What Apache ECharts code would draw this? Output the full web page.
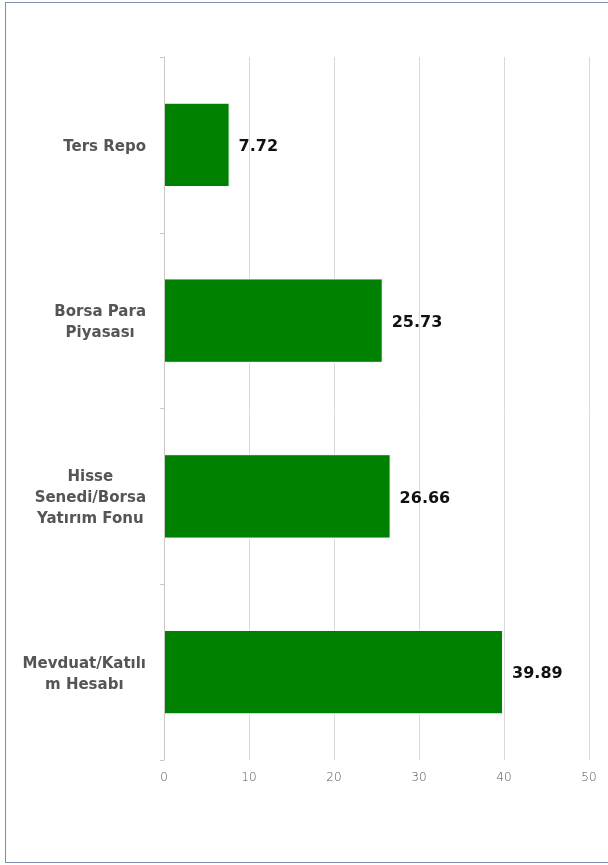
<!DOCTYPE html>
<html>
<head>
<meta charset="utf-8">
<script src="https://cdn.jsdelivr.net/npm/echarts@6/dist/echarts.min.js"></script>
<style>
html,body{margin:0;padding:0;width:608px;height:865px;overflow:hidden;background:#fff;}
#frame{position:absolute;left:5px;top:2px;width:720px;height:859px;border:1px solid #7f8fac;}
#chart{position:absolute;left:0;top:0;width:608px;height:865px;}
</style>
</head>
<body>
<div id="frame"></div>
<div id="chart"></div>
<script>
const categories = ["Ters Repo", "Borsa Para Piyasası", "Hisse Senedi/Borsa Yatırım Fonu", "Mevduat/Katılım Hesabı"];
const categoryLabels = ["Ters Repo", "Borsa Para\nPiyasası", "Hisse\nSenedi/Borsa\nYatırım Fonu", "Mevduat/Katılı\nm Hesabı"];
const values = [7.72, 25.73, 26.66, 39.89];
const xTicks = [0, 10, 20, 30, 40, 50];

const chart = echarts.init(document.getElementById('chart'), null, {renderer: 'canvas'});
const FONT = '"DejaVu Sans", "Open Sans", sans-serif';
chart.setOption({
  animation: false,
  backgroundColor: 'transparent',
  textStyle: {fontFamily: FONT},
  grid: {left: 164, right: 19, top: 57, bottom: 105, containLabel: false},
  xAxis: {
    type: 'value',
    min: xTicks[0],
    max: xTicks[xTicks.length - 1],
    interval: xTicks[1] - xTicks[0],
    axisLine: {show: false},
    axisTick: {show: false},
    splitLine: {show: true, lineStyle: {color: '#d9d9d9', width: 1}},
    axisLabel: {color: '#555555', fontSize: 12, fontWeight: 200, margin: 12, fontFamily: FONT}
  },
  yAxis: {
    type: 'category',
    inverse: true,
    data: categories,
    axisLine: {show: true, lineStyle: {color: '#c8c8c8', width: 1}},
    axisTick: {show: true, length: 4, lineStyle: {color: '#c8c8c8'}},
    axisLabel: {
      margin: 18,
      align: 'right',
      formatter: function (v, i) { return '{c|' + categoryLabels[i] + '}'; },
      rich: {
        c: {align: 'center', color: '#555555', fontSize: 15, fontWeight: 'bold', lineHeight: 21, padding: [4, 0, 0, 0], fontFamily: FONT}
      }
    },
    z: 3
  },
  series: [{
    type: 'bar',
    data: values,
    barWidth: '48%',
    itemStyle: {color: '#008000', borderColor: '#ffffff', borderWidth: 1},
    label: {
      show: true,
      position: 'right',
      distance: 9,
      color: '#111111',
      fontSize: 16,
      fontWeight: 'bold',
      fontFamily: FONT,
      offset: [0, 2]
    }
  }]
});
</script>
</body>
</html>
